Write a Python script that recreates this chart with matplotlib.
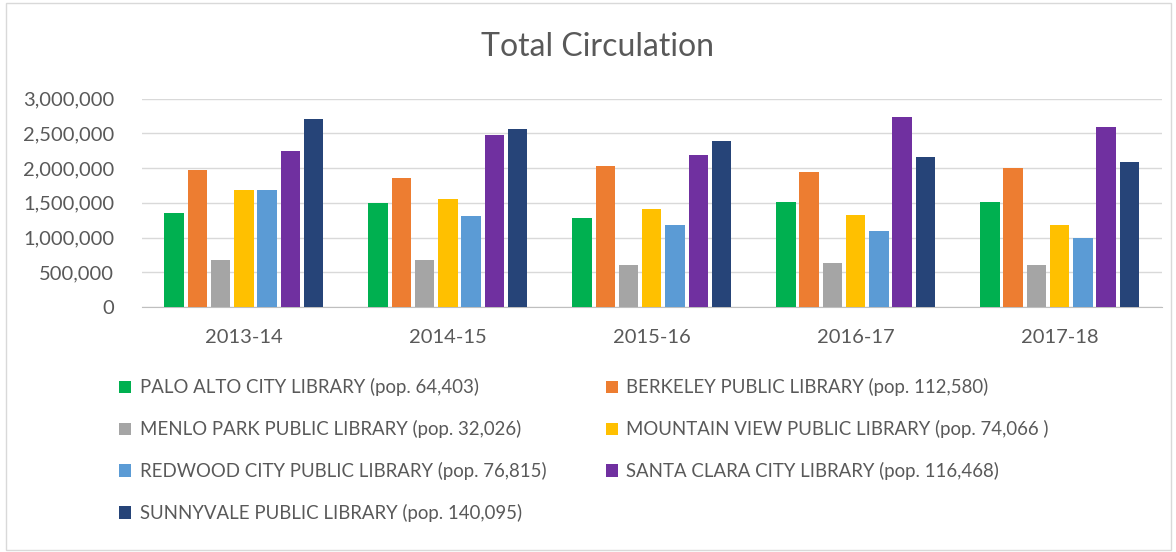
import numpy as np
import matplotlib
matplotlib.use("Agg")
import matplotlib.pyplot as plt
from matplotlib.patches import Rectangle
from matplotlib.ticker import FuncFormatter

plt.rcParams['font.family'] = ['Lato', 'DejaVu Sans']

years = ["2013-14", "2014-15", "2015-16", "2016-17", "2017-18"]
libraries = [
    "PALO ALTO CITY LIBRARY (pop. 64,403)",
    "BERKELEY PUBLIC LIBRARY (pop. 112,580)",
    "MENLO PARK PUBLIC LIBRARY (pop. 32,026)",
    "MOUNTAIN VIEW PUBLIC LIBRARY (pop. 74,066 )",
    "REDWOOD CITY PUBLIC LIBRARY (pop. 76,815)",
    "SANTA CLARA CITY LIBRARY (pop. 116,468)",
    "SUNNYVALE PUBLIC LIBRARY (pop. 140,095)",
]
palo_alto = [1356000, 1495000, 1275000, 1519000, 1519000]
berkeley = [1979000, 1859000, 2027000, 1941000, 2003000]
menlo_park = [680000, 680000, 599000, 628000, 599000]
mountain_view = [1692000, 1553000, 1414000, 1327000, 1184000]
redwood_city = [1692000, 1304000, 1184000, 1097000, 987000]
santa_clara = [2252000, 2482000, 2195000, 2732000, 2588000]
sunnyvale = [2703000, 2564000, 2396000, 2166000, 2085000]

series = [palo_alto, berkeley, menlo_park, mountain_view, redwood_city, santa_clara, sunnyvale]
colors = ["#00b050", "#ed7d31", "#a5a5a5", "#ffc000", "#5b9bd5", "#7030a0", "#264478"]

fig = plt.figure(figsize=(11.76, 5.52), dpi=100)
fig.patches.append(Rectangle((0.005, 0.004), 0.991, 0.99, transform=fig.transFigure,
                             fill=False, edgecolor="#d9d9d9", linewidth=1))

ax = fig.add_axes([0.1207, 0.444, 0.867, 0.377])
x = np.arange(len(years))
slot = 0.114
width = 0.095
handles = []
for i, (vals, c) in enumerate(zip(series, colors)):
    b = ax.bar(x + (i - 3) * slot, vals, width=width, color=c, zorder=3)
    handles.append(b)

ax.set_ylim(0, 3000000)
ax.set_xlim(-0.5, 4.5)
ax.set_yticks(np.arange(0, 3000001, 500000))
ax.yaxis.set_major_formatter(FuncFormatter(lambda v, p: f"{int(v):,}"))
ax.set_xticks(x)
ax.set_xticklabels(years)
ax.grid(axis='y', color="#d9d9d9", linewidth=1, zorder=0)
for s in ["top", "right", "left"]:
    ax.spines[s].set_visible(False)
ax.spines["bottom"].set_color("#bfbfbf")
ax.tick_params(axis='both', length=0, labelsize=14.5, labelcolor="#595959")
ax.tick_params(axis='x', pad=16)
ax.tick_params(axis='y', pad=20)

fig.text(0.508, 0.915, "Total Circulation", ha="center", va="center",
         fontsize=23, color="#595959")

order = [0, 2, 4, 6, 1, 3, 5]
fig.legend([handles[i] for i in order], [libraries[i] for i in order],
           loc="upper left", bbox_to_anchor=(0.087, 0.345), ncol=2,
           frameon=False, fontsize=13.4, labelcolor="#595959",
           handlelength=0.65, handleheight=0.65, handletextpad=0.45,
           labelspacing=1.28, columnspacing=3.2)

fig.savefig("out.png", dpi=100)
